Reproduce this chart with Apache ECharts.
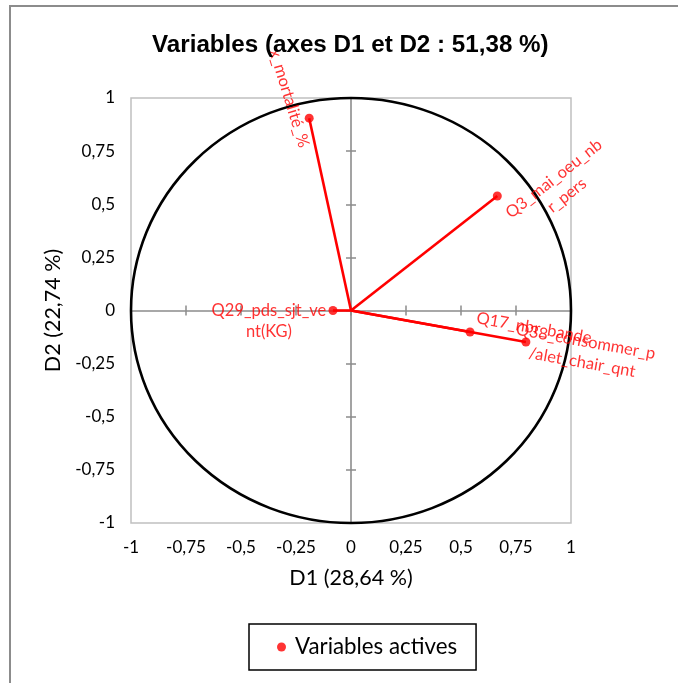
<!DOCTYPE html>
<html>
<head>
<meta charset="utf-8">
<script src="https://cdn.jsdelivr.net/npm/echarts@6/dist/echarts.min.js"></script>
<style>
html,body{margin:0;padding:0;background:#fff;}
#chart{width:678px;height:683px;}
</style>
</head>
<body>
<div id="chart"></div>
<script>
// ---- data ----
const variableNames = ['x_mortalité_%', 'Q3_mai_oeu_nb\nr_pers', 'Q29_pds_sjt_ve\nnt(KG)', 'Q17_nbr_bande', 'Q38_consommer_p\n/alet_chair_qnt'];
const d1Values = [-0.19, 0.665, -0.082, 0.541, 0.795];
const d2Values = [0.905, 0.539, 0.0, -0.101, -0.148];
const axisTicks = [-1, -0.75, -0.5, -0.25, 0, 0.25, 0.5, 0.75, 1];
const circleRadius = 1;
const seriesName = 'Variables actives';
const titleText = 'Variables (axes D1 et D2 : 51,38 %)';
const xAxisName = 'D1 (28,64 %)';
const yAxisName = 'D2 (22,74 %)';

// ---- label placement (style only) ----
const labelStyle = [
  {dx: -20, dy: -20, rotate: -73},
  {dx: 63, dy: -9, rotate: 38},
  {dx: -64, dy: 11, rotate: 0},
  {dx: 64, dy: -4, rotate: -10},
  {dx: 58, dy: 10, rotate: -10}
];

const LABEL_FONT = 'Lato, "Open Sans", sans-serif';
const RED = '#ff0000';
const SYM = 9;

const pointData = variableNames.map((n, i) => ({
  name: n,
  value: [d1Values[i], d2Values[i]],
  label: {
    show: true,
    formatter: n,
    position: [SYM / 2 + labelStyle[i].dx, SYM / 2 + labelStyle[i].dy],
    rotate: labelStyle[i].rotate,
    align: 'center',
    verticalAlign: 'middle'
  }
}));

const fmt = v => String(v).replace('.', ',');

const chart = echarts.init(document.getElementById('chart'), null, {renderer: 'canvas'});

const zeroAxisCommon = (inside) => ({
  type: 'value', min: axisTicks[0], max: axisTicks[axisTicks.length - 1], interval: 0.25,
  axisLine: {show: !inside, onZero: true, lineStyle: {color: '#8c8c8c', width: 1.6}},
  axisTick: {show: true, inside: inside, length: 5, lineStyle: {color: '#8c8c8c', width: 1.5}},
  axisLabel: {show: false},
  splitLine: {show: false}
});

chart.setOption({
  animation: false,
  backgroundColor: '#fff',
  title: {
    text: titleText,
    left: 147,
    top: 28,
    textStyle: {fontFamily: '"Liberation Sans", Arial, sans-serif', fontWeight: 'bold', fontSize: 24.2, color: '#000'}
  },
  graphic: [{
    type: 'rect', silent: true, z: -10,
    shape: {x: 10, y: 6, width: 720, height: 720},
    style: {fill: 'none', stroke: '#8c8c8c', lineWidth: 2}
  }],
  grid: {left: 131, right: 107, top: 98, bottom: 160, show: true, borderColor: '#c0c0c0', borderWidth: 1.5, backgroundColor: 'transparent'},
  legend: {
    data: [{name: seriesName, icon: 'circle'}],
    left: 249, top: 624,
    itemWidth: 9, itemHeight: 9,
    borderColor: '#000', borderWidth: 1.5, borderRadius: 0,
    padding: [12, 19, 12, 28],
    textStyle: {fontFamily: LABEL_FONT, fontSize: 22.3, color: '#000', padding: [0, 0, 0, 4]}
  },
  xAxis: [
    {
      type: 'value', min: axisTicks[0], max: axisTicks[axisTicks.length - 1], interval: 0.25, position: 'bottom',
      axisLine: {show: false, onZero: false}, axisTick: {show: false}, splitLine: {show: false},
      axisLabel: {margin: 16, fontFamily: LABEL_FONT, fontSize: 17, color: '#000', formatter: fmt},
      name: xAxisName, nameLocation: 'middle', nameGap: 44,
      nameTextStyle: {fontFamily: LABEL_FONT, fontSize: 21.5, color: '#000'}
    },
    zeroAxisCommon(false),
    zeroAxisCommon(true)
  ],
  yAxis: [
    {
      type: 'value', min: axisTicks[0], max: axisTicks[axisTicks.length - 1], interval: 0.25, position: 'left',
      axisLine: {show: false, onZero: false}, axisTick: {show: false}, splitLine: {show: false},
      axisLabel: {margin: 16, fontFamily: LABEL_FONT, fontSize: 17, color: '#000', formatter: fmt},
      name: yAxisName, nameLocation: 'middle', nameGap: 63, nameRotate: 90,
      nameTextStyle: {fontFamily: LABEL_FONT, fontSize: 21.5, color: '#000'}
    },
    zeroAxisCommon(false),
    zeroAxisCommon(true)
  ],
  series: [
    {
      type: 'custom',
      silent: true,
      coordinateSystem: 'cartesian2d',
      data: [[0, 0, circleRadius]],
      z: 3,
      renderItem: (params, api) => {
        const c = api.coord([api.value(0), api.value(1)]);
        const s = api.size([api.value(2), api.value(2)]);
        return {
          type: 'circle',
          shape: {cx: c[0], cy: c[1], r: s[0]},
          scaleX: 1, scaleY: s[1] / s[0], originX: c[0], originY: c[1],
          style: {fill: 'none', stroke: '#000', lineWidth: 2.6},
          strokeNoScale: true
        };
      }
    },
    {
      type: 'custom',
      silent: true,
      coordinateSystem: 'cartesian2d',
      data: d1Values.map((x, i) => [x, d2Values[i]]),
      z: 4,
      renderItem: (params, api) => {
        const o = api.coord([0, 0]);
        const p = api.coord([api.value(0), api.value(1)]);
        return {
          type: 'line',
          shape: {x1: o[0], y1: o[1], x2: p[0], y2: p[1]},
          style: {stroke: RED, lineWidth: 2.6}
        };
      }
    },
    {
      name: seriesName,
      type: 'scatter',
      symbol: 'circle',
      symbolSize: SYM,
      z: 5,
      itemStyle: {color: RED},
      label: {color: RED, fontFamily: LABEL_FONT, fontSize: 16.5, lineHeight: 21},
      labelLayout: {hideOverlap: false},
      data: pointData
    }
  ]
});
</script>
</body>
</html>
